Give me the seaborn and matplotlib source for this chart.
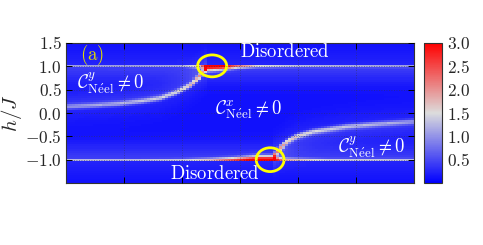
import numpy as np
import pandas as pd
import matplotlib
matplotlib.use("Agg")
import matplotlib.pyplot as plt
import seaborn as sns
from matplotlib.colors import LinearSegmentedColormap
from matplotlib.patches import Ellipse

# -------------------------
# Values (x in arbitrary units 0..6, y = h/J)
# -------------------------
X_MIN, X_MAX = 0.0, 6.0
H_MIN, H_MAX = -1.5, 1.5
N_COLS, N_ROWS = 116, 69

BACKGROUND = 0.12

# line at h/J = +1 : intensity and half-widths (above / below) along x
top_line_x = [0.0, 1.0, 2.0, 2.3, 2.45, 2.7, 2.95, 3.3, 4.0, 5.0, 6.0]
top_line_v = [0.95, 0.95, 1.05, 1.5, 3.0, 3.0, 2.1, 1.4, 1.15, 1.05, 0.95]
top_line_up = [0.012] * 11
top_line_dn = [0.012, 0.012, 0.015, 0.03, 0.07, 0.055, 0.035, 0.025, 0.02, 0.02, 0.02]

# line at h/J = -1
bot_line_x = [0.0, 1.0, 2.0, 2.5, 2.9, 3.3, 3.55, 3.75, 4.5, 6.0]
bot_line_v = [0.95, 0.95, 1.05, 1.4, 2.2, 3.0, 3.0, 1.5, 1.1, 1.0]
bot_line_up = [0.012, 0.012, 0.02, 0.03, 0.04, 0.06, 0.06, 0.03, 0.02, 0.02]
bot_line_dn = [0.012] * 10

# curved phase boundaries
up_curve_x = [0.0, 0.47, 0.93, 1.33, 1.62, 1.91, 2.14, 2.31, 2.43]
up_curve_h = [0.13, 0.16, 0.2, 0.26, 0.32, 0.45, 0.6, 0.78, 0.95]
up_curve_v = [0.85, 0.9, 1.0, 1.1, 1.2, 1.3, 1.5, 1.7, 1.9]
lo_curve_x = [3.55, 3.69, 3.83, 3.98, 4.26, 4.84, 5.41, 6.0]
lo_curve_h = [-0.95, -0.75, -0.6, -0.5, -0.4, -0.29, -0.23, -0.18]
lo_curve_v = [1.9, 1.7, 1.5, 1.4, 1.25, 1.1, 1.0, 0.85]

y_ticks = [-1.0, -0.5, 0.0, 0.5, 1.0, 1.5]
x_ticks = [1, 2, 3, 4, 5]
cbar_ticks = [0.5, 1.0, 1.5, 2.0, 2.5, 3.0]

# annotations: (x, h)
circles = [(2.52, 1.01, 0.50, 0.47), (3.52, -1.0, 0.48, 0.51)]
labels = [
    (0.45, 1.24, r"$\mathrm{(a)}$", "#e0dc00"),
    (3.77, 1.30, r"$\mathrm{Disordered}$", "white"),
    (2.57, -1.30, r"$\mathrm{Disordered}$", "white"),
    (0.76, 0.62, r"$\mathcal{C}^{y}_{\mathrm{N\acute{e}el}}\neq 0$", "white"),
    (3.14, 0.05, r"$\mathcal{C}^{x}_{\mathrm{N\acute{e}el}}\neq 0$", "white"),
    (5.26, -0.74, r"$\mathcal{C}^{y}_{\mathrm{N\acute{e}el}}\neq 0$", "white"),
]


# -------------------------
# Helpers
# -------------------------
xs = np.linspace(X_MIN, X_MAX, 2 * N_COLS + 1)[1::2]
hs = np.linspace(H_MIN, H_MAX, 2 * N_ROWS + 1)[1::2]
H = np.repeat(hs[:, None], N_COLS, axis=1)


def add_ridge(z, cx, ch, cv, s_up, s_dn, glow_up=0.0, glow_dn=0.0, glow_w=0.22):
    mask = (xs >= min(cx) - 1e-9) & (xs <= max(cx) + 1e-9)
    hc = np.interp(xs, cx, ch)[None, :]
    vc = np.interp(xs, cx, cv)[None, :]
    su = np.interp(xs, cx, np.broadcast_to(s_up, len(cx)))[None, :]
    sd = np.interp(xs, cx, np.broadcast_to(s_dn, len(cx)))[None, :]
    d = H - hc
    sig = np.where(d >= 0, su, sd)
    peak = (vc - BACKGROUND) * np.exp(-0.5 * (d / sig) ** 2)
    g = np.where(d >= 0, glow_up, glow_dn)
    halo = g * np.exp(-0.5 * (d / glow_w) ** 2)
    z += (peak + halo) * mask[None, :]


def to_idx(x, h):
    col = (x - X_MIN) / (X_MAX - X_MIN) * N_COLS
    row = (H_MAX - h) / (H_MAX - H_MIN) * N_ROWS
    return col, row


Z = np.full((N_ROWS, N_COLS), BACKGROUND)
add_ridge(Z, top_line_x, [1.0] * len(top_line_x), top_line_v, top_line_up, top_line_dn,
          glow_up=0.12, glow_dn=0.3)
add_ridge(Z, bot_line_x, [-1.0] * len(bot_line_x), bot_line_v, bot_line_up, bot_line_dn,
          glow_up=0.3, glow_dn=0.12)
add_ridge(Z, up_curve_x, up_curve_h, up_curve_v, 0.04, 0.035, glow_up=0.25, glow_dn=0.12)
add_ridge(Z, lo_curve_x, lo_curve_h, lo_curve_v, 0.035, 0.045, glow_up=0.12, glow_dn=0.25)

df = pd.DataFrame(Z[::-1], index=np.round(hs[::-1], 3), columns=np.round(xs, 3))

# -------------------------
# Figure
# -------------------------
sns.set_theme(style="white")
plt.rcParams["mathtext.fontset"] = "cm"
plt.rcParams["font.family"] = ["DejaVu Serif"]

cmap = LinearSegmentedColormap.from_list("bgr", ["#0000ff", "#dcdcdc", "#ff0000"])

fig = plt.figure(figsize=(4.83, 2.45), dpi=100)
ax = fig.add_axes([0.1366, 0.253, 0.7205, 0.5715])
cax = fig.add_axes([0.878, 0.253, 0.037, 0.5715])

sns.heatmap(df, cmap=cmap, vmin=0, vmax=3, ax=ax, cbar_ax=cax,
            xticklabels=False, yticklabels=False, rasterized=True)

# axes ticks / grid
ax.set_yticks([to_idx(0, h)[1] for h in y_ticks])
ax.set_yticklabels([f"${h:.1f}$" for h in y_ticks], fontsize=12.5)
ax.set_xticks([to_idx(x, 0)[0] for x in x_ticks])
ax.set_xticklabels([])
ax.tick_params(direction="in", length=4, width=0.7, color="black",
               top=True, right=True, left=True, bottom=True, pad=3)
ax.set_axisbelow(False)
ax.grid(True, linestyle=(0, (1, 2)), color="#333355", linewidth=0.6, alpha=0.7)
for s in ax.spines.values():
    s.set_visible(True)
    s.set_linewidth(0.8)
    s.set_color("#333333")
ax.set_ylabel(r"$h/J$", fontsize=15, labelpad=1)
ax.set_xlabel("")

for x, h, w, hh in circles:
    cx, cy = to_idx(x, h)
    ew = w / (X_MAX - X_MIN) * N_COLS
    eh = hh / (H_MAX - H_MIN) * N_ROWS
    ax.add_patch(Ellipse((cx, cy), ew, eh, fill=False, edgecolor="#ffff00", linewidth=2.0))

for x, h, txt, col in labels:
    cx, cy = to_idx(x, h)
    ax.text(cx, cy, txt, color=col, fontsize=13.5, ha="center", va="center")

# colorbar
cb = ax.collections[0].colorbar
cb.set_ticks(cbar_ticks)
cb.set_ticklabels([f"${t:.1f}$" for t in cbar_ticks])
cb.ax.tick_params(labelsize=12.5, direction="in", length=4, width=0.7, color="#555555")
cb.outline.set_visible(True)
cb.outline.set_linewidth(0.8)
cb.outline.set_edgecolor("#333333")

plt.savefig("out.png", dpi=100)
